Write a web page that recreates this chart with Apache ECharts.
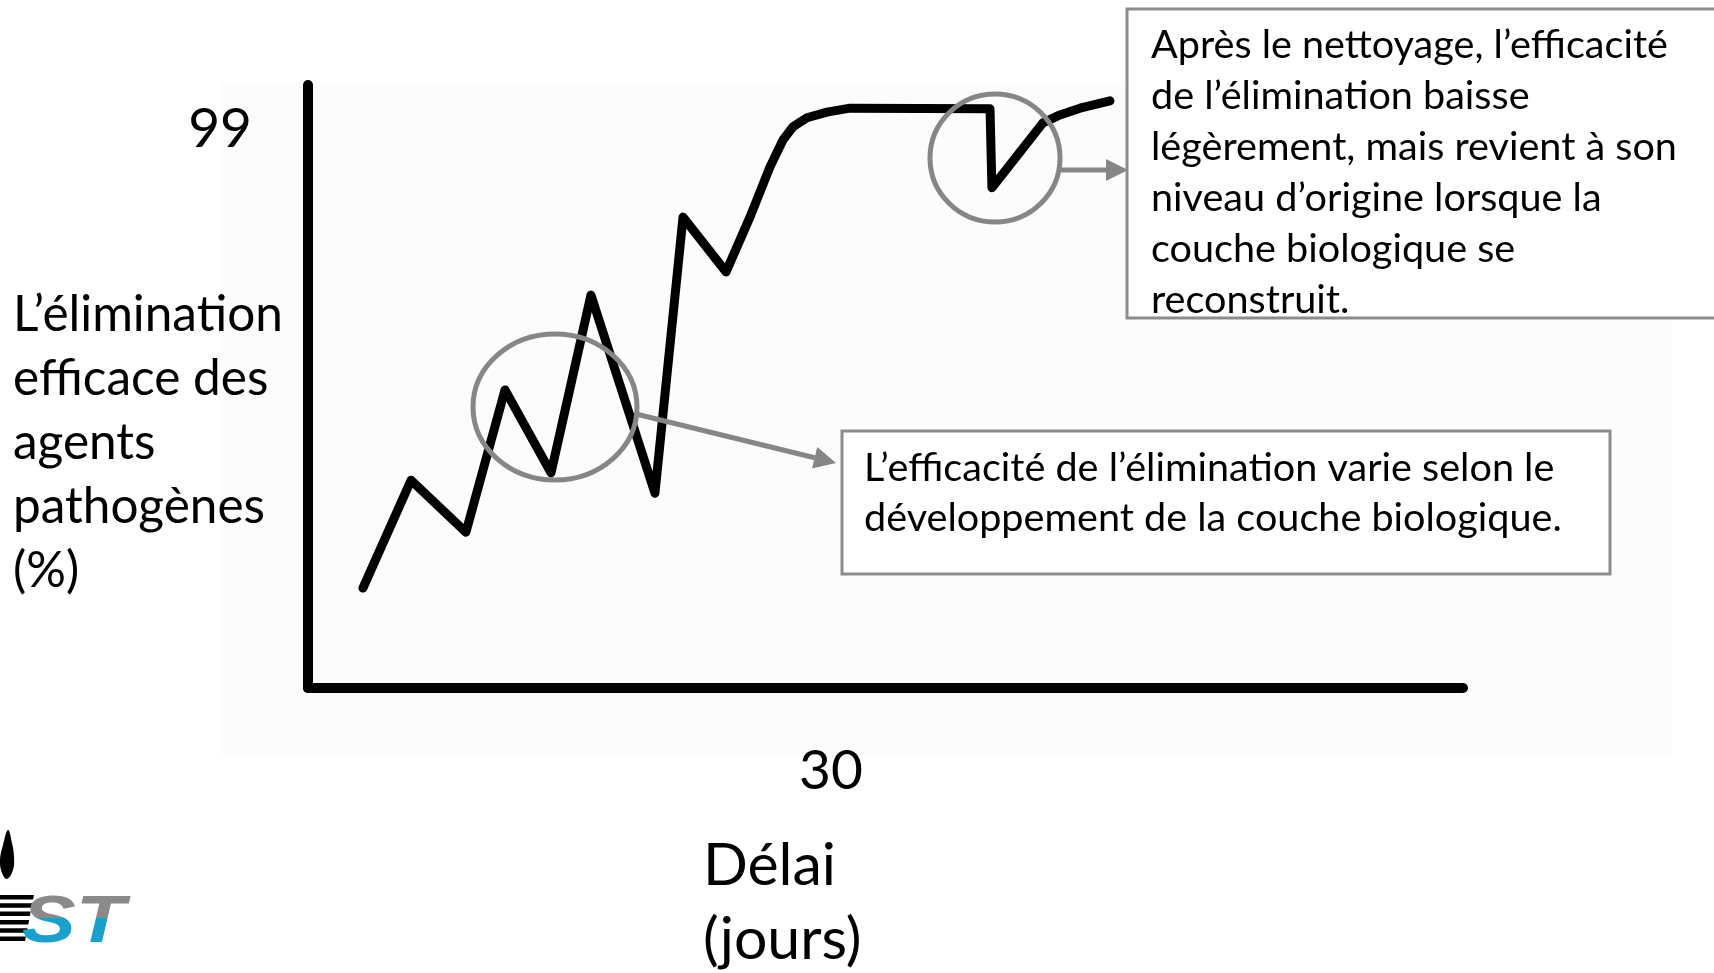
<!DOCTYPE html>
<html>
<head>
<meta charset="utf-8">
<title>Élimination des agents pathogènes</title>
<script src="https://cdn.jsdelivr.net/npm/echarts@6/dist/echarts.min.js"></script>
<style>
  html, body { margin: 0; padding: 0; background: #fff; }
  #main { width: 1714px; height: 973px; }
</style>
</head>
<body>
<div id="main"></div>
<script>
// données : délai (jours) et élimination (%)
const jours = [3.15, 5.91, 9.06, 11.3, 13.94, 16.23, 19.9, 21.51, 23.98, 25.35, 26.5, 27.25, 27.82, 28.62, 29.77, 31.09, 39.12, 39.23, 42.16, 43.13, 44.28, 46.0];
const elimination = [17.7, 36.8, 27.6, 52.8, 38.1, 69.6, 34.5, 83.4, 73.7, 83.4, 92.3, 97.1, 99.4, 101.0, 102.0, 102.7, 102.6, 88.6, 100.1, 101.5, 102.7, 104.0];
const xTicks = [30];
const yTicks = [99];

const yTitre = "L’élimination\nefficace des\nagents\npathogènes\n(%)";
const xTitre = "Délai\n(jours)";
const note1 = "Après le nettoyage, l’efficacité\nde l’élimination baisse\nlégèrement, mais revient à son\nniveau d’origine lorsque la\ncouche biologique se\nreconstruit.";
const note2 = "L’efficacité de l’élimination varie selon le\ndéveloppement de la couche biologique.";

const font = 'Lato';
const gris = '#868686';

const chartDom = document.getElementById('main');
const myChart = echarts.init(chartDom);

// flèche : trait + pointe triangulaire
function fleche(x1, y1, x2, y2) {
  const a = Math.atan2(y2 - y1, x2 - x1);
  const L = 22, W = 11;
  const bx = x2 - L * Math.cos(a), by = y2 - L * Math.sin(a);
  return [
    { type: 'line', shape: { x1: x1, y1: y1, x2: bx, y2: by }, style: { stroke: gris, lineWidth: 5 }, z: 10 },
    { type: 'polygon', shape: { points: [[x2, y2], [bx - W * Math.sin(a), by + W * Math.cos(a)], [bx + W * Math.sin(a), by - W * Math.cos(a)]] }, style: { fill: gris }, z: 10 }
  ];
}

// goutte noire du logo
const goutte = [[8, 830], [12, 843], [14, 857], [13, 870], [7, 879], [2, 873], [0, 860], [3, 845]];

// bandes noires du logo
const bandes = [];
for (let i = 0; i < 6; i++) {
  const y = 895 + i * 8.3;
  bandes.push({ type: 'polygon', shape: { points: [[0, y], [34 - i * 1.6, y], [33 - i * 1.6, y + 4.5], [0, y + 4.5]] }, style: { fill: '#000' } });
}

// lettres "ST" du logo : moitié haute grise, moitié basse bleue
const logo = document.createElement('canvas');
logo.width = 140;
logo.height = 70;
const ctx = logo.getContext('2d');
ctx.font = 'italic bold 66px "Liberation Sans"';
[['#8a8a8a', 0, 38], ['#1aa0cc', 38, 32]].forEach(([c, y0, h]) => {
  ctx.save();
  ctx.beginPath();
  ctx.rect(0, y0, 140, h);
  ctx.clip();
  ctx.setTransform(1.22, 0, 0, 1, 0, 0);
  ctx.fillStyle = c;
  ctx.fillText('ST', 0, 62);
  ctx.restore();
});

const option = {
  animation: false,
  backgroundColor: '#fff',
  grid: { left: 308, right: 251, top: 85, bottom: 285, containLabel: false, outerBoundsMode: 'none' },
  xAxis: {
    type: 'value',
    min: 0,
    max: 66.25,
    axisLine: { show: true, lineStyle: { color: '#000', width: 10, cap: 'round' } },
    axisTick: { show: false },
    splitLine: { show: false },
    axisLabel: { customValues: xTicks, fontFamily: font, fontSize: 55, color: '#000', margin: 83, verticalAlign: 'middle' }
  },
  yAxis: {
    type: 'value',
    min: 0,
    max: 106.8,
    axisLine: { show: true, lineStyle: { color: '#000', width: 10, cap: 'round' } },
    axisTick: { show: false },
    splitLine: { show: false },
    axisLabel: { customValues: yTicks, fontFamily: font, fontSize: 55, color: '#000', margin: 56 }
  },
  series: [
    {
      type: 'line',
      data: jours.map((j, i) => [j, elimination[i]]),
      showSymbol: false,
      lineStyle: { color: '#000', width: 9, cap: 'round', join: 'round' },
      z: 3
    }
  ],
  graphic: [
    // fond légèrement gris du schéma
    { type: 'rect', z: -10, shape: { x: 219, y: 82, width: 1453, height: 672 }, style: { fill: '#fcfcfc' } },
    // titres
    { type: 'text', x: 13, y: 283, style: { text: yTitre, font: '49.5px ' + font, lineHeight: 64, fill: '#000' } },
    { type: 'text', x: 703, y: 829, style: { text: xTitre, font: '59px ' + font, lineHeight: 74, fill: '#000' } },
    // annotations
    { type: 'ellipse', shape: { cx: 555, cy: 407, rx: 82, ry: 73 }, style: { fill: 'none', stroke: gris, lineWidth: 5 }, z: 10 },
    { type: 'ellipse', shape: { cx: 995, cy: 158, rx: 65, ry: 64 }, style: { fill: 'none', stroke: gris, lineWidth: 5 }, z: 10 },
    ...fleche(636, 414, 836, 463),
    ...fleche(1060, 170, 1128, 170),
    { type: 'rect', shape: { x: 1127, y: 9, width: 620, height: 309 }, style: { fill: '#fff', stroke: '#8c8c8c', lineWidth: 3 }, z: 5 },
    { type: 'text', x: 1151, y: 20, style: { text: note1, font: '39.6px ' + font, lineHeight: 51, fill: '#000' }, z: 6 },
    { type: 'rect', shape: { x: 842, y: 431, width: 768, height: 143 }, style: { fill: '#fff', stroke: '#8c8c8c', lineWidth: 3 }, z: 5 },
    { type: 'text', x: 864, y: 443, style: { text: note2, font: '39.6px ' + font, lineHeight: 50, fill: '#000' }, z: 6 },
    // logo (coin bas gauche)
    { type: 'polygon', shape: { points: goutte, smooth: 0.4 }, style: { fill: '#000' } },
    ...bandes,
    { type: 'image', x: 22, y: 880, style: { image: logo, width: 140, height: 70 } }
  ]
};

option && myChart.setOption(option);
</script>
</body>
</html>
